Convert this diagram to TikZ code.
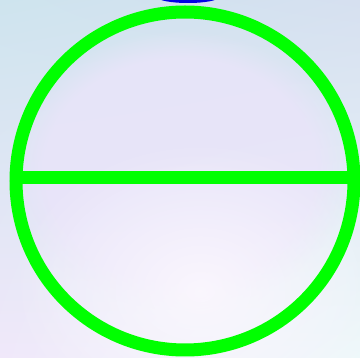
\documentclass[tikz,border=0pt]{standalone}
\usetikzlibrary{shapes.geometric,shadings,fadings}
\definecolor{ringgreen}{RGB}{0,255,0}
\definecolor{capblue}{RGB}{0,0,230}
\definecolor{bgUL}{RGB}{206,228,238}
\definecolor{bgUR}{RGB}{214,224,240}
\definecolor{bgLL}{RGB}{240,232,250}
\definecolor{bgLR}{RGB}{238,248,250}
\definecolor{bgmid}{RGB}{234,228,250}
\definecolor{bglow}{RGB}{252,248,254}
\tikzfading[name=softdisc, inner color=transparent!0, outer color=transparent!100]
\tikzset{
  ring/.style={draw=ringgreen, line width=13pt},
  bar/.style={draw=ringgreen, line width=13pt},
  bluecap/.style={fill=capblue}
}
\begin{document}
\begin{tikzpicture}[x=1pt,y=-1pt]
\useasboundingbox (0,0) rectangle (360,358);
\shade[upper left=bgUL, upper right=bgUR, lower left=bgLL, lower right=bgLR] (0,0) rectangle (360,358);
\fill[bgmid, opacity=0.8, path fading=circle with fuzzy edge 20 percent] (180,170) ellipse (170 and 140);
\fill[bglow, opacity=0.9, path fading=softdisc] (200,290) ellipse (190 and 150);
\fill[bluecap] (188,-3) ellipse (31 and 6);
\coordinate (c) at (185,181);
\draw[ring] (c) circle (169);
\coordinate (l) at (17,178);
\coordinate (r) at (353,178);
\draw[bar] (l) -- (r);
\end{tikzpicture}
\end{document}
